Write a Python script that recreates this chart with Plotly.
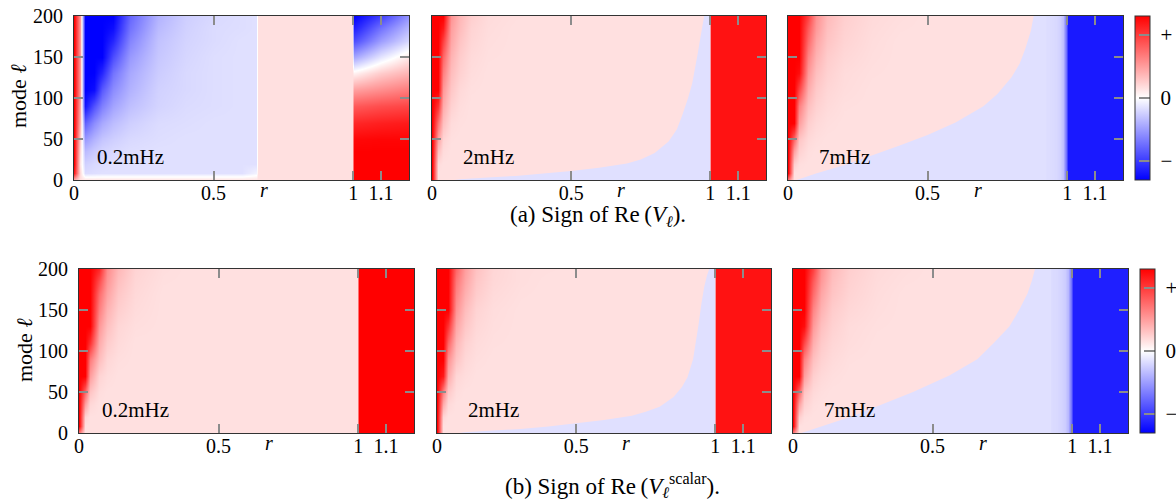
import plotly.graph_objects as go

# ---------------- data ----------------
R_COLS = [0.0, 0.02, 0.04, 0.07, 0.1, 0.14, 0.2, 0.3, 0.4, 0.5, 0.6, 0.652, 0.658,
          0.72, 0.78, 0.83, 0.87, 0.9, 0.925, 0.945, 0.96, 0.975, 0.985, 0.996,
          1.004, 1.1, 1.2]
L_ROWS = [0, 8, 20, 35, 50, 70, 90, 110, 130, 150, 170, 185, 200]

P = 0.12    # pale pink level
B = -0.12   # pale blue level

X_TICKS = [0, 0.5, 1, 1.1]
X_TICKTEXT = ["0", "0.5", "1", "1.1"]
Y_TICKS = [0, 50, 100, 150, 200]
FREQ_LABELS = ["0.2mHz", "2mHz", "7mHz", "0.2mHz", "2mHz", "7mHz"]
CB_TICKS = [-0.77, 0, 0.77]
CB_TEXT = ["\u00a0\u2212", "\u00a00", "\u00a0+"]

# (a) Re(V_l), 0.2 mHz : full grid (rows = L_ROWS, cols = R_COLS)
Z_A1 = [
    [0.3, P, P, P, P, P, P, P, P, P, P, P, P, P, P, P, P, P, P, P, P, P, P, P, 1, 1, 1],
    [0.9, 0.15, -0.14, -0.13, B, B, B, B, B, B, B, -0.05, P, P, P, P, P, P, P, P, P, P, P, P, 1, 1, 1],
    [1, 0.1, -0.18, -0.15, -0.14, B, B, B, B, B, B, B, P, P, P, P, P, P, P, P, P, P, P, P, 1, 1, 1],
    [1, 0.15, -0.27, -0.21, -0.17, -0.15, -0.13, B, B, B, B, B, P, P, P, P, P, P, P, P, P, P, P, P, 1, 1, 1],
    [1, 0.2, -0.4, -0.3, -0.23, -0.19, -0.15, -0.13, B, B, B, B, P, P, P, P, P, P, P, P, P, P, P, P, 0.97, 0.98, 0.98],
    [1, 0.3, -0.62, -0.45, -0.34, -0.26, -0.19, -0.14, -0.13, B, B, B, P, P, P, P, P, P, P, P, P, P, P, P, 0.85, 0.88, 0.9],
    [1, 0.35, -0.92, -0.68, -0.5, -0.36, -0.25, -0.17, -0.14, -0.13, B, B, P, P, P, P, P, P, P, P, P, P, P, P, 0.65, 0.7, 0.73],
    [1, 0.4, -1, -0.95, -0.65, -0.45, -0.3, -0.18, -0.15, -0.13, B, B, P, P, P, P, P, P, P, P, P, P, P, P, 0.38, 0.45, 0.52],
    [1, 0.4, -1, -1, -0.85, -0.55, -0.34, -0.2, -0.15, -0.13, B, B, P, P, P, P, P, P, P, P, P, P, P, P, 0.05, 0.2, 0.3],
    [1, 0.4, -1, -1, -1, -0.7, -0.4, -0.22, -0.16, -0.13, B, B, P, P, P, P, P, P, P, P, P, P, P, P, -0.35, -0.1, 0.1],
    [1, 0.4, -1, -1, -1, -0.85, -0.48, -0.24, -0.17, -0.14, B, B, P, P, P, P, P, P, P, P, P, P, P, P, -0.7, -0.38, -0.15],
    [1, 0.4, -1, -1, -1, -0.95, -0.55, -0.27, -0.18, -0.14, -0.13, B, P, P, P, P, P, P, P, P, P, P, P, P, -0.88, -0.55, -0.28],
    [1, 0.4, -1, -1, -1, -1, -0.6, -0.3, -0.19, -0.15, -0.13, B, P, P, P, P, P, P, P, P, P, P, P, P, -1, -0.75, -0.42],
]

# Red wedge near r = 0 (values of the first columns of each row, bottom to top);
# the rest of each row is pale pink up to the outer region.
WEDGE_A2 = [[1], [1], [1, 0.14], [1, 0.25, 0.14], [1, 0.37, 0.17, 0.125],
            [1, 0.55, 0.25, 0.14, 0.125], [1, 0.8, 0.33, 0.18, 0.135],
            [1, 1, 0.4, 0.22, 0.15, 0.125], [1, 1, 0.5, 0.26, 0.18, 0.135],
            [1, 1, 0.6, 0.3, 0.2, 0.145, 0.125], [1, 1, 0.75, 0.35, 0.23, 0.16, 0.13],
            [1, 1, 0.9, 0.38, 0.26, 0.17, 0.135], [1, 1, 1, 0.42, 0.28, 0.19, 0.14, 0.125]]
WEDGE_A3 = [[0.5], [1], [1, 0.19, 0.13], [1, 0.37, 0.18, 0.13], [1, 0.6, 0.23, 0.15, 0.13],
            [1, 1, 0.38, 0.19, 0.15, 0.13], [1, 1, 0.5, 0.25, 0.18, 0.145, 0.125],
            [1, 1, 0.72, 0.32, 0.21, 0.16, 0.135], [1, 1, 0.95, 0.4, 0.25, 0.18, 0.14, 0.125],
            [1, 1, 1, 0.48, 0.3, 0.2, 0.155, 0.13], [1, 1, 1, 0.58, 0.35, 0.23, 0.17, 0.135],
            [1, 1, 1, 0.65, 0.4, 0.25, 0.18, 0.14, 0.125], [1, 1, 1, 0.75, 0.43, 0.27, 0.19, 0.145, 0.13]]
WEDGE_B1 = [[0.5], [1], [1, 0.17], [1, 0.38, 0.155], [1, 0.6, 0.23, 0.135],
            [1, 1, 0.38, 0.17, 0.135], [1, 1, 0.52, 0.26, 0.16, 0.13],
            [1, 1, 0.8, 0.33, 0.2, 0.145], [1, 1, 1, 0.41, 0.25, 0.16, 0.13],
            [1, 1, 1, 0.5, 0.3, 0.19, 0.14], [1, 1, 1, 0.58, 0.36, 0.22, 0.15],
            [1, 1, 1, 0.7, 0.41, 0.25, 0.16, 0.125], [1, 1, 1, 0.85, 0.45, 0.28, 0.17, 0.13]]
WEDGE_B2 = [[1], [1], [1, 0.16], [1, 0.33, 0.15], [1, 0.5, 0.21, 0.135],
            [1, 0.9, 0.33, 0.16, 0.135], [1, 1, 0.43, 0.23, 0.155, 0.13],
            [1, 1, 0.6, 0.28, 0.18, 0.14, 0.125], [1, 1, 0.8, 0.35, 0.22, 0.155, 0.13],
            [1, 1, 1, 0.42, 0.26, 0.17, 0.135], [1, 1, 1, 0.48, 0.31, 0.2, 0.145, 0.125],
            [1, 1, 1, 0.53, 0.35, 0.22, 0.155, 0.13], [1, 1, 1, 0.6, 0.38, 0.24, 0.16, 0.13, 0.125]]
WEDGE_B3 = WEDGE_A3

# Outer-region values (columns from r = 0.925 or r = 1.004 onwards)
OUTER_A2 = [0.93, 0.93, 0.93]                                       # r = 1.004, 1.1, 1.2
OUTER_B1 = [1, 1, 1]
OUTER_B2 = [0.93, 0.93, 0.93]
OUTER_A3 = [-0.13, -0.14, -0.15, -0.18, -0.25, -0.55, -0.9, -0.9, -0.9]     # r = 0.925 .. 1.2
OUTER_B3 = [-0.14, -0.15, -0.17, -0.2, -0.28, -0.55, -0.88, -0.88, -0.88]

# Pale-blue region boundary (r, l) (pink above/left, pale blue below/right)
BND_A2_R = [0.08, 0.1, 0.2, 0.3, 0.4, 0.5, 0.6, 0.7, 0.75, 0.8, 0.85, 0.88, 0.9, 0.92, 0.935, 0.945, 0.955, 0.965, 0.972, 0.978]
BND_A2_L = [0, 1, 3, 5, 8, 11, 15, 20, 25, 33, 47, 62, 80, 100, 118, 135, 155, 175, 190, 200]
BND_B2_R = [0.08, 0.1, 0.2, 0.3, 0.4, 0.5, 0.6, 0.7, 0.75, 0.8, 0.85, 0.88, 0.9, 0.92, 0.93, 0.94, 0.95, 0.96, 0.97, 0.978]
BND_B2_L = [0, 1, 3, 5, 8, 12, 16, 21, 26, 32, 44, 56, 68, 90, 110, 133, 158, 178, 192, 200]
BND_A3_R = [0.03, 0.05, 0.1, 0.2, 0.3, 0.4, 0.5, 0.6, 0.7, 0.75, 0.8, 0.83, 0.85, 0.87, 0.88]
BND_A3_L = [0, 2, 8, 18, 30, 42, 55, 70, 90, 105, 125, 142, 160, 182, 200]
BND_B3_R = [0.03, 0.1, 0.21, 0.32, 0.43, 0.56, 0.66, 0.72, 0.775, 0.81, 0.84, 0.855, 0.867]
BND_B3_L = [0, 8, 20, 35, 50, 70, 90, 110, 130, 150, 170, 185, 200]
BND_END_R = [1.0, 1.0, 0.925, 0.925]      # right edge of the pale-blue region (a2, b2, a3, b3)
PALE_BLUE = "rgb(224,224,255)"


def build(wedge, n_inner, outer):
    return [w + [P] * (n_inner - len(w)) + outer for w in wedge]


Z_A2 = build(WEDGE_A2, 24, OUTER_A2)
Z_A3 = build(WEDGE_A3, 18, OUTER_A3)
Z_B1 = build(WEDGE_B1, 24, OUTER_B1)
Z_B2 = build(WEDGE_B2, 24, OUTER_B2)
Z_B3 = build(WEDGE_B3, 18, OUTER_B3)

# ---------------- layout helpers ----------------
W, H = 1176, 500
FONT = "Liberation Serif, DejaVu Serif, serif"


def fx(px):
    return px / W


def fy(py):
    return 1 - py / H


COLORSCALE = [[0.0, "rgb(0,0,255)"], [0.5, "rgb(255,255,255)"], [1.0, "rgb(255,0,0)"]]

# (z, x pixel span, y pixel span, coloraxis, boundary)
PANELS = [
    (Z_A1, (74, 409), (16, 180), "coloraxis", None),
    (Z_A2, (432, 766), (16, 180), "coloraxis", (BND_A2_R, BND_A2_L, BND_END_R[0])),
    (Z_A3, (788, 1123), (16, 180), "coloraxis", (BND_A3_R, BND_A3_L, BND_END_R[2])),
    (Z_B1, (79, 414), (269, 433), "coloraxis2", None),
    (Z_B2, (437, 771), (269, 433), "coloraxis2", (BND_B2_R, BND_B2_L, BND_END_R[1])),
    (Z_B3, (793, 1128), (269, 433), "coloraxis2", (BND_B3_R, BND_B3_L, BND_END_R[3])),
]

fig = go.Figure()
layout = dict(
    width=W, height=H,
    margin=dict(l=0, r=0, t=0, b=0, autoexpand=False),
    paper_bgcolor="white", plot_bgcolor="white",
    font=dict(family=FONT, size=20, color="black"),
    showlegend=False,
)

annotations = []
for i, (z, (x0, x1), (y0, y1), cax, bnd) in enumerate(PANELS):
    n = i + 1
    xa = "x" if n == 1 else f"x{n}"
    ya = "y" if n == 1 else f"y{n}"
    fig.add_trace(go.Heatmap(
        x=R_COLS, y=L_ROWS, z=z, coloraxis=cax, zsmooth="best",
        xaxis=xa, yaxis=ya, hoverinfo="skip",
    ))
    if bnd is not None:
        br, bl, rend = bnd
        fig.add_trace(go.Scatter(
            x=br + [rend, rend], y=bl + [200, 0], mode="lines", fill="toself",
            fillcolor=PALE_BLUE, line=dict(width=0), xaxis=xa, yaxis=ya,
            hoverinfo="skip",
        ))
    common = dict(
        showline=True, linecolor="#333", linewidth=1, mirror="ticks",
        ticks="inside", ticklen=9, tickwidth=1.5, tickcolor="#8c8c8c",
        showgrid=False, zeroline=False, fixedrange=True, layer="above traces",
        tickfont=dict(family=FONT, size=20, color="black"),
    )
    layout["xaxis" if n == 1 else f"xaxis{n}"] = dict(
        common, domain=[fx(x0), fx(x1)], anchor=ya, range=[0, 1.2],
        tickmode="array", tickvals=X_TICKS, ticktext=X_TICKTEXT,
        ticklabelstandoff=-5,
    )
    layout["yaxis" if n == 1 else f"yaxis{n}"] = dict(
        common, domain=[fy(y1), fy(y0)], anchor=xa, range=[0, 200],
        tickmode="array", tickvals=Y_TICKS,
        showticklabels=(n in (1, 4)), ticklabelstandoff=6,
    )
    annotations.append(dict(
        text=FREQ_LABELS[i], x=0.075 if n in (1, 4) else 0.105, y=28,
        xref=xa, yref=ya, xanchor="left", yanchor="middle", showarrow=False,
        font=dict(family=FONT, size=21, color="black"),
    ))
    annotations.append(dict(
        text="<i>r</i>", x=0.68, y=-0.06, xref=xa, yref=f"{ya} domain",
        xanchor="center", yanchor="middle", showarrow=False,
        font=dict(family=FONT, size=20, color="black"),
    ))

annotations.append(dict(text="mode <i>\u2113</i>", x=fx(19), y=fy(96), xref="paper", yref="paper",
                        textangle=-90, showarrow=False, xanchor="center", yanchor="middle",
                        font=dict(family=FONT, size=22, color="black")))
annotations.append(dict(text="mode <i>\u2113</i>", x=fx(24), y=fy(350), xref="paper", yref="paper",
                        textangle=-90, showarrow=False, xanchor="center", yanchor="middle",
                        font=dict(family=FONT, size=22, color="black")))
annotations.append(dict(text="(a) Sign of Re\u2009(<i>V</i><sub><i>\u2113</i></sub>).",
                        x=fx(598), y=fy(216), xref="paper", yref="paper", showarrow=False,
                        xanchor="center", yanchor="middle",
                        font=dict(family=FONT, size=23, color="black")))
annotations.append(dict(text="(b) Sign of Re\u2009(<i>V</i><sub><i>\u2113</i></sub><sup>scalar</sup>).",
                        x=fx(612), y=fy(485), xref="paper", yref="paper", showarrow=False,
                        xanchor="center", yanchor="middle",
                        font=dict(family=FONT, size=23, color="black")))
layout["annotations"] = annotations


def colorbar(x_px, yc_px):
    return dict(
        x=fx(x_px), xanchor="left", y=fy(yc_px), yanchor="middle",
        len=164 / H, lenmode="fraction", thickness=15, thicknessmode="pixels",
        xpad=0, ypad=0, outlinewidth=1, outlinecolor="#333",
        tickmode="array", tickvals=CB_TICKS, ticktext=CB_TEXT,
        ticks="inside", ticklen=11, tickwidth=1.5, tickcolor="#8c8c8c",
        tickfont=dict(family=FONT, size=21, color="black"),
    )


layout["coloraxis"] = dict(cmin=-1, cmax=1, colorscale=COLORSCALE, colorbar=colorbar(1135, 98))
layout["coloraxis2"] = dict(cmin=-1, cmax=1, colorscale=COLORSCALE, colorbar=colorbar(1140, 351))

fig.update_layout(**layout)
fig.write_html("out.html")
